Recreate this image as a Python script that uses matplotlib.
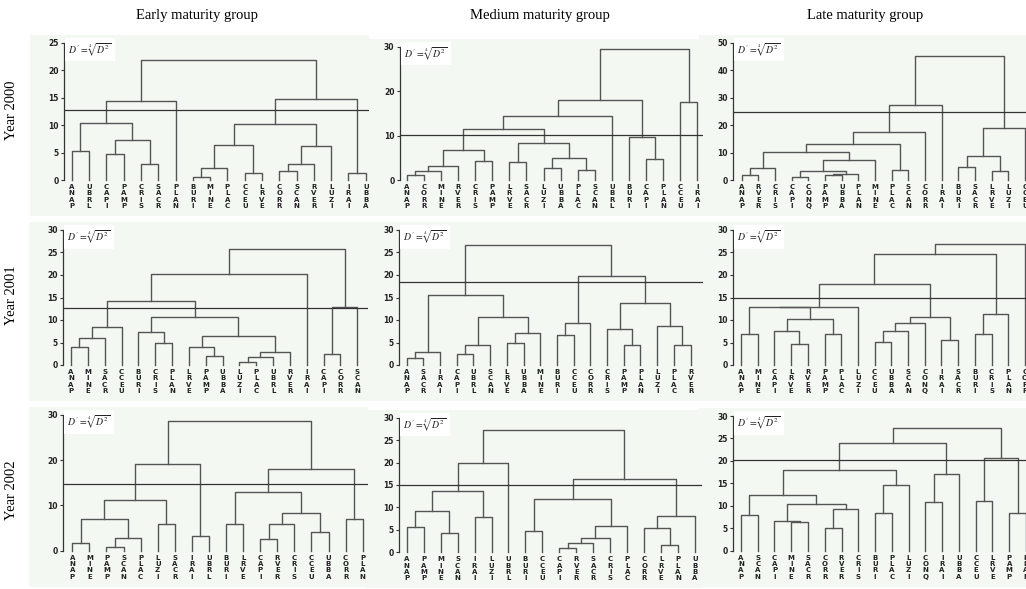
import matplotlib
matplotlib.use("Agg")
import matplotlib.pyplot as plt
from matplotlib.patches import Rectangle

plt.rcParams["mathtext.fontset"] = "stix"

W, H = 1026, 589
LINE = "#555555"
DARK = "#333333"
BG = "#f3f8f3"

groups = ["Early maturity group", "Medium maturity group", "Late maturity group"]
years = ["Year 2000", "Year 2001", "Year 2002"]

# leaf order left to right, merges as (node a, node b, height); node 18+k is merge k
leaves_00_early = ["ANAP", "UBRL", "CAPI", "PAMP", "CRIS", "SACR", "PLAN", "BURI", "MINE",
                   "PLAC", "CCEU", "LRVE", "CORR", "SCAN", "RVER", "LUZI", "IRAI", "UBBA"]
merges_00_early = [(0, 1, 5.2), (2, 3, 4.7), (4, 5, 3.0), (19, 20, 7.2), (18, 21, 10.4),
                   (22, 6, 14.3), (7, 8, 0.6), (24, 9, 2.1), (10, 11, 1.2), (25, 26, 6.4),
                   (12, 13, 1.7), (28, 14, 2.9), (29, 15, 6.1), (27, 30, 10.2), (16, 17, 1.2),
                   (31, 32, 14.8), (23, 33, 21.8)]

leaves_00_medium = ["ANAP", "CORR", "MINE", "RVER", "CRIS", "PAMP", "LRVE", "SACR", "LUZI",
                    "UBBA", "PLAC", "SCAN", "UBRL", "BURI", "CAPI", "PLAN", "CCEU", "IRAI"]
merges_00_medium = [(0, 1, 1.1), (18, 2, 2.0), (19, 3, 3.2), (4, 5, 4.3), (20, 21, 6.8),
                    (6, 7, 4.0), (8, 9, 2.6), (10, 11, 2.3), (24, 25, 5.0), (23, 26, 8.4),
                    (22, 27, 11.5), (28, 12, 14.4), (14, 15, 4.7), (13, 30, 9.7),
                    (29, 31, 18.1), (16, 17, 17.6), (32, 33, 29.4)]

leaves_00_late = ["ANAP", "RVER", "CRIS", "CAPI", "CONQ", "PAMP", "UBBA", "PLAN", "MINE",
                  "PLAC", "SCAN", "CORR", "IRAI", "BURI", "SACR", "LRVE", "LUZI", "CCEU"]
merges_00_late = [(0, 1, 1.8), (18, 2, 4.5), (3, 4, 1.2), (5, 6, 1.7), (21, 7, 2.2),
                  (20, 22, 3.3), (23, 8, 7.4), (19, 24, 10.1), (9, 10, 3.6), (25, 26, 13.1),
                  (27, 11, 17.6), (28, 12, 27.3), (13, 14, 4.9), (15, 16, 3.4),
                  (30, 31, 8.9), (32, 17, 18.8), (29, 33, 45.3)]

leaves_01_early = ["ANAP", "MINE", "SACR", "CCEU", "BURI", "CRIS", "PLAN", "LRVE", "PAMP",
                   "UBBA", "LUZI", "PLAC", "UBRL", "RVER", "IRAI", "CAPI", "CORR", "SCAN"]
merges_01_early = [(0, 1, 3.9), (18, 2, 6.1), (19, 3, 8.5), (5, 6, 5.0), (4, 21, 7.4),
                   (8, 9, 2.0), (7, 23, 4.1), (10, 11, 0.7), (25, 12, 1.7), (26, 13, 3.0),
                   (24, 27, 6.5), (22, 28, 10.7), (20, 29, 14.3), (30, 14, 20.2),
                   (15, 16, 2.4), (32, 17, 13.0), (31, 33, 25.7)]

leaves_01_medium = ["ANAP", "SACR", "IRAI", "CAPI", "UBRL", "SCAN", "LRVE", "UBBA", "MINE",
                    "BURI", "CCEU", "CORR", "CRIS", "PAMP", "PLAN", "LUZI", "PLAC", "RVER"]
merges_01_medium = [(0, 1, 1.5), (18, 2, 3.0), (3, 4, 2.4), (20, 5, 4.4), (6, 7, 4.8),
                    (22, 8, 7.2), (21, 23, 10.6), (19, 24, 15.5), (9, 10, 6.6), (26, 11, 9.3),
                    (13, 14, 4.4), (12, 28, 7.9), (16, 17, 4.5), (15, 30, 8.7),
                    (29, 31, 13.8), (27, 32, 19.7), (25, 33, 26.6)]

leaves_01_late = ["ANAP", "MINE", "CAPI", "LRVE", "RVER", "PAMP", "PLAC", "LUZI", "CCEU",
                  "UBBA", "SCAN", "CONQ", "IRAI", "SACR", "BURI", "CRIS", "PLAN", "CORR"]
merges_01_late = [(0, 1, 7.0), (3, 4, 4.7), (2, 19, 7.6), (5, 6, 7.0), (20, 21, 10.3),
                  (18, 22, 12.9), (23, 7, 13.0), (8, 9, 5.1), (25, 10, 7.6), (26, 11, 9.3),
                  (12, 13, 5.6), (27, 28, 10.7), (24, 29, 18.1), (14, 15, 7.0),
                  (31, 16, 11.4), (30, 32, 24.7), (33, 17, 26.8)]

leaves_02_early = ["ANAP", "MINE", "PAMP", "SCAN", "PLAC", "LUZI", "SACR", "IRAI", "UBRL",
                   "BURI", "LRVE", "CAPI", "RVER", "CRIS", "CCEU", "UBBA", "CORR", "PLAN"]
merges_02_early = [(0, 1, 1.8), (2, 3, 0.9), (19, 4, 2.7), (18, 20, 7.1), (5, 6, 5.8),
                   (21, 22, 11.2), (7, 8, 3.3), (23, 24, 19.2), (9, 10, 5.8), (11, 12, 2.6),
                   (27, 13, 5.8), (14, 15, 4.2), (28, 29, 8.4), (26, 30, 12.9),
                   (16, 17, 7.1), (31, 32, 18.1), (25, 33, 28.6)]

leaves_02_medium = ["ANAP", "PAMP", "MINE", "SCAN", "IRAI", "LUZI", "UBRL", "BURI", "CCEU",
                    "CAPI", "RVER", "SACR", "CRIS", "PLAC", "CORR", "LRVE", "PLAN", "UBBA"]
merges_02_medium = [(0, 1, 5.7), (2, 3, 4.3), (18, 19, 9.2), (4, 5, 7.9), (20, 21, 13.6),
                    (22, 6, 20.0), (7, 8, 4.8), (9, 10, 1.0), (25, 11, 2.0), (26, 12, 3.2),
                    (27, 13, 5.9), (24, 28, 11.9), (15, 16, 1.6), (14, 30, 5.5),
                    (31, 17, 8.0), (29, 32, 16.3), (23, 33, 27.2)]

leaves_02_late = ["ANAP", "SCAN", "CAPI", "MINE", "SACR", "CORR", "RVER", "CRIS", "BURI",
                  "PLAC", "LUZI", "CONQ", "IRAI", "UBBA", "CCEU", "LRVE", "PAMP", "PLAN"]
merges_02_late = [(0, 1, 8.0), (3, 4, 6.3), (2, 19, 6.7), (5, 6, 5.0), (21, 7, 9.2),
                  (20, 22, 10.4), (18, 23, 12.3), (8, 9, 8.3), (25, 10, 14.6), (24, 26, 17.9),
                  (11, 12, 10.8), (28, 13, 17.1), (27, 29, 23.9), (14, 15, 11.1),
                  (16, 17, 8.5), (31, 32, 20.6), (30, 33, 27.4)]

cut_2000 = [12.7, 10.2, 24.9]
cut_2001 = [12.6, 18.4, 15.0]
cut_2002 = [14.8, 15.0, 20.2]

yticks_2000 = [[0, 5, 10, 15, 20, 25], [0, 10, 20, 30], [0, 10, 20, 30, 40, 50]]
yticks_2001 = [[0, 5, 10, 15, 20, 25, 30]] * 3
yticks_2002 = [[0, 10, 20, 30], [0, 5, 10, 15, 20, 25, 30], [0, 5, 10, 15, 20, 25, 30]]

trees = [
    [(leaves_00_early, merges_00_early), (leaves_00_medium, merges_00_medium),
     (leaves_00_late, merges_00_late)],
    [(leaves_01_early, merges_01_early), (leaves_01_medium, merges_01_medium),
     (leaves_01_late, merges_01_late)],
    [(leaves_02_early, merges_02_early), (leaves_02_medium, merges_02_medium),
     (leaves_02_late, merges_02_late)],
]
cuts = [cut_2000, cut_2001, cut_2002]
yticks = [yticks_2000, yticks_2001, yticks_2002]

# pixel layout of each panel: axis x, right edge, y of 0, y of top tick, first leaf x, leaf step
layout = [
    [(64.3, 369, 180, 42.7, 71.7, 17.3), (400, 703, 180, 46.7, 406.7, 17.1),
     (733.3, 1026, 180, 42.7, 741.7, 16.67)],
    [(63.3, 368, 365, 230, 71, 16.84), (399.3, 703, 365, 230, 406.7, 16.7),
     (733.3, 1026, 365, 230, 741, 16.7)],
    [(63.3, 368, 550.7, 415, 72.3, 17.08), (399.3, 702, 552.3, 417.7, 406.7, 16.96),
     (733.3, 1026, 550.7, 416, 741, 16.94)],
]


def draw_tree(ax, n, merges):
    xs = list(range(n))
    ys = [0.0] * n
    for a, b, h in merges:
        ax.plot([xs[a], xs[a], xs[b], xs[b]], [ys[a], h, h, ys[b]],
                color=LINE, lw=1.0, clip_on=False)
        xs.append((xs[a] + xs[b]) / 2)
        ys.append(h)


fig = plt.figure(figsize=(W / 100, H / 100), dpi=100)

for r in range(3):
    for c in range(3):
        ax_x, right, y0, ytop, leaf0, step = layout[r][c]
        leaves, merges = trees[r][c]
        ticks = yticks[r][c]

        fig.patches.append(Rectangle(((ax_x - 34) / W, 1 - (y0 + 36) / H),
                                     (right - ax_x + 34) / W, (y0 - ytop + 44) / H,
                                     transform=fig.transFigure, facecolor=BG,
                                     edgecolor="none", zorder=-5))

        ax = fig.add_axes([ax_x / W, 1 - y0 / H, (right - ax_x) / W, (y0 - ytop) / H])
        ax.set_facecolor("none")
        draw_tree(ax, len(leaves), merges)
        ax.axhline(cuts[r][c], color=DARK, lw=0.9)
        ax.set_xlim((ax_x - leaf0) / step, (right - leaf0) / step)
        ax.set_ylim(0, ticks[-1])

        for s in ["top", "right", "bottom"]:
            ax.spines[s].set_visible(False)
        ax.spines["left"].set_color(DARK)
        ax.spines["left"].set_linewidth(0.9)

        ax.set_yticks(ticks)
        ax.set_yticklabels([str(t) for t in ticks], fontsize=5.5, fontweight="bold",
                           color="#222222")
        ax.tick_params(axis="y", length=2.5, width=0.8, pad=1.5, color=DARK)
        ax.set_xticks(range(len(leaves)))
        ax.set_xticklabels(["\n".join(name) for name in leaves], fontsize=5,
                           fontweight="bold", color="#222222", linespacing=1.05)
        ax.tick_params(axis="x", length=0, pad=3)

        ax.annotate(r"$D' = \sqrt[4]{D^2}$", xy=(0, 1), xycoords="axes fraction",
                    xytext=(3, -5), textcoords="offset points", ha="left", va="center",
                    fontsize=7, color="#222222", annotation_clip=False,
                    bbox=dict(boxstyle="square,pad=0.35", facecolor="white",
                              edgecolor="none"))

title_x = [197, 540, 865]
for name, x in zip(groups, title_x):
    fig.text(x / W, 1 - 15 / H, name, ha="center", va="center",
             family="Liberation Serif", fontsize=10.5)

year_y = [110, 295, 490]
for name, y in zip(years, year_y):
    fig.text(12 / W, 1 - y / H, name, ha="center", va="center", rotation=90,
             family="Liberation Serif", fontsize=10.5)

fig.savefig("out.png", dpi=100)
